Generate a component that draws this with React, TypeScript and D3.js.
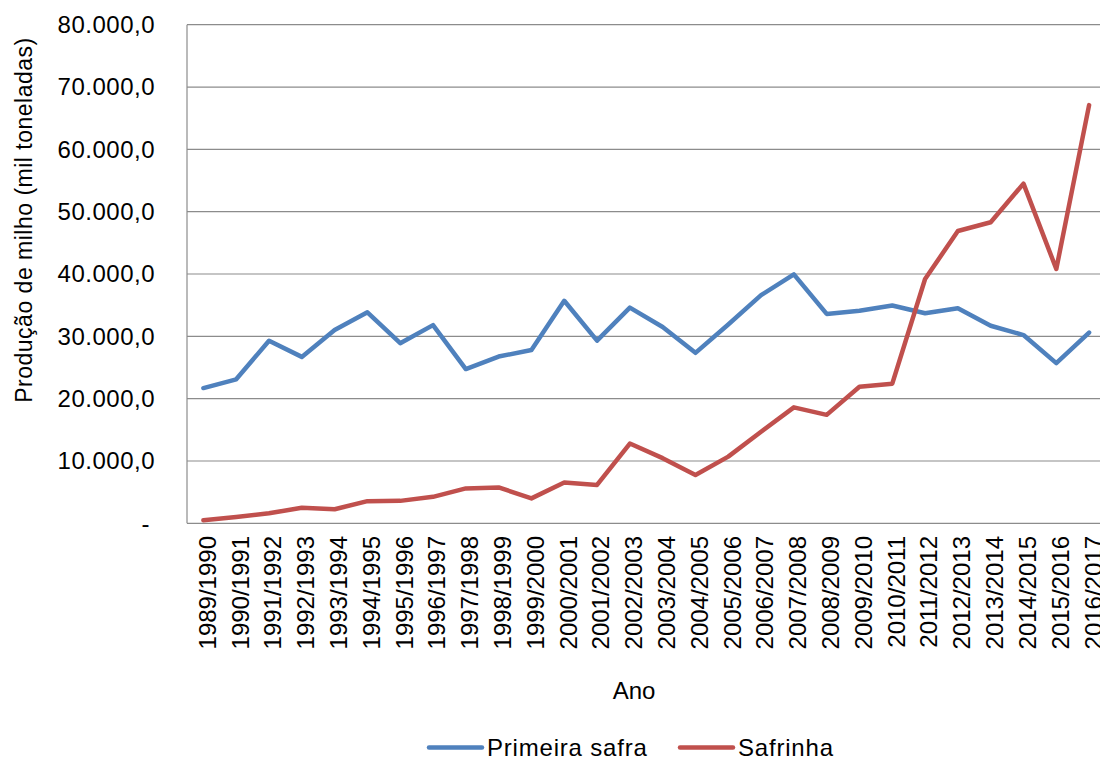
import React from "react";
import * as d3 from "d3";

const categories = [
  "1989/1990", "1990/1991", "1991/1992", "1992/1993", "1993/1994", "1994/1995",
  "1995/1996", "1996/1997", "1997/1998", "1998/1999", "1999/2000", "2000/2001",
  "2001/2002", "2002/2003", "2003/2004", "2004/2005", "2005/2006", "2006/2007",
  "2007/2008", "2008/2009", "2009/2010", "2010/2011", "2011/2012", "2012/2013",
  "2013/2014", "2014/2015", "2015/2016", "2016/2017",
];

const primeiraSafra = [
  21700, 23100, 29300, 26700, 31000, 33850, 28900, 31800, 24750, 26750,
  27800, 35700, 29300, 34600, 31500, 27350, 31900, 36600, 39950, 33600,
  34100, 34950, 33700, 34500, 31700, 30200, 25700, 30600,
];

const safrinha = [
  500, 1000, 1600, 2500, 2250, 3550, 3600, 4250, 5600, 5750,
  4000, 6550, 6150, 12800, 10450, 7750, 10700, 14700, 18600, 17400,
  21900, 22400, 39200, 46900, 48300, 54500, 40800, 67100,
];

const yTicks = [0, 10000, 20000, 30000, 40000, 50000, 60000, 70000, 80000];

const seriesNames = ["Primeira safra", "Safrinha"];
const seriesColors = ["#4F81BD", "#C0504D"];

const locale = d3.formatLocale({
  decimal: ",",
  thousands: ".",
  grouping: [3],
  currency: ["R$", ""],
});
const fmt = locale.format(",.1f");

export default function App() {
  const left = 187;
  const right = 1105.5;
  const top = 24.7;
  const bottom = 523.3;

  const x = d3.scaleBand<string>().domain(categories).range([left, right]);
  const cx = (c: string) => (x(c) as number) + x.bandwidth() / 2;
  const y = d3.scaleLinear().domain([0, 80000]).range([bottom, top]);

  const line = d3
    .line<number>()
    .x((_, i) => cx(categories[i]))
    .y((d) => y(d));

  const series = [primeiraSafra, safrinha];
  const font = "'Liberation Sans', Arial, sans-serif";

  return (
    <svg
      width={1100}
      height={760}
      style={{ position: "absolute", left: 0, top: 0, background: "#fff" }}
      fontFamily={font}
    >
      <rect x={0} y={0} width={1100} height={760} fill="#fff" />
      {yTicks.map((t) => (
        <line
          key={"g" + t}
          x1={left}
          x2={right}
          y1={y(t)}
          y2={y(t)}
          stroke="#8c8c8c"
          strokeWidth={1.2}
        />
      ))}
      <line x1={left} x2={left} y1={top} y2={bottom} stroke="#8c8c8c" strokeWidth={1.2} />
      {yTicks.map((t) => (
        <text
          key={"t" + t}
          x={t === 0 ? 150 : 155}
          y={y(t)}
          dy="0.35em"
          textAnchor="end"
          fontSize={24}
          letterSpacing={0.5}
          fill="#000"
        >
          {t === 0 ? "-" : fmt(t)}
        </text>
      ))}
      {categories.map((c) => (
        <text
          key={"x" + c}
          transform={`translate(${cx(c) + 4},536) rotate(-90)`}
          dy="0.35em"
          textAnchor="end"
          fontSize={24}
          fill="#000"
        >
          {c}
        </text>
      ))}
      <text
        transform={`translate(32,220) rotate(-90)`}
        textAnchor="middle"
        fontSize={23}
        letterSpacing={0.5}
        fill="#000"
      >
        Produção de milho (mil toneladas)
      </text>
      <text x={634} y={699} textAnchor="middle" fontSize={24} fill="#000">
        Ano
      </text>
      {series.map((s, i) => (
        <path
          key={"s" + i}
          d={line(s) || ""}
          fill="none"
          stroke={seriesColors[i]}
          strokeWidth={4.5}
          strokeLinejoin="round"
          strokeLinecap="round"
        />
      ))}
      {seriesNames.map((n, i) => {
        const lx = i === 0 ? 429 : 680;
        return (
          <g key={"l" + n}>
            <line
              x1={lx}
              x2={lx + 53}
              y1={747.5}
              y2={747.5}
              stroke={seriesColors[i]}
              strokeWidth={4.5}
              strokeLinecap="round"
            />
            <text x={lx + 58} y={756} fontSize={24} letterSpacing={0.8} fill="#000">
              {n}
            </text>
          </g>
        );
      })}
    </svg>
  );
}
